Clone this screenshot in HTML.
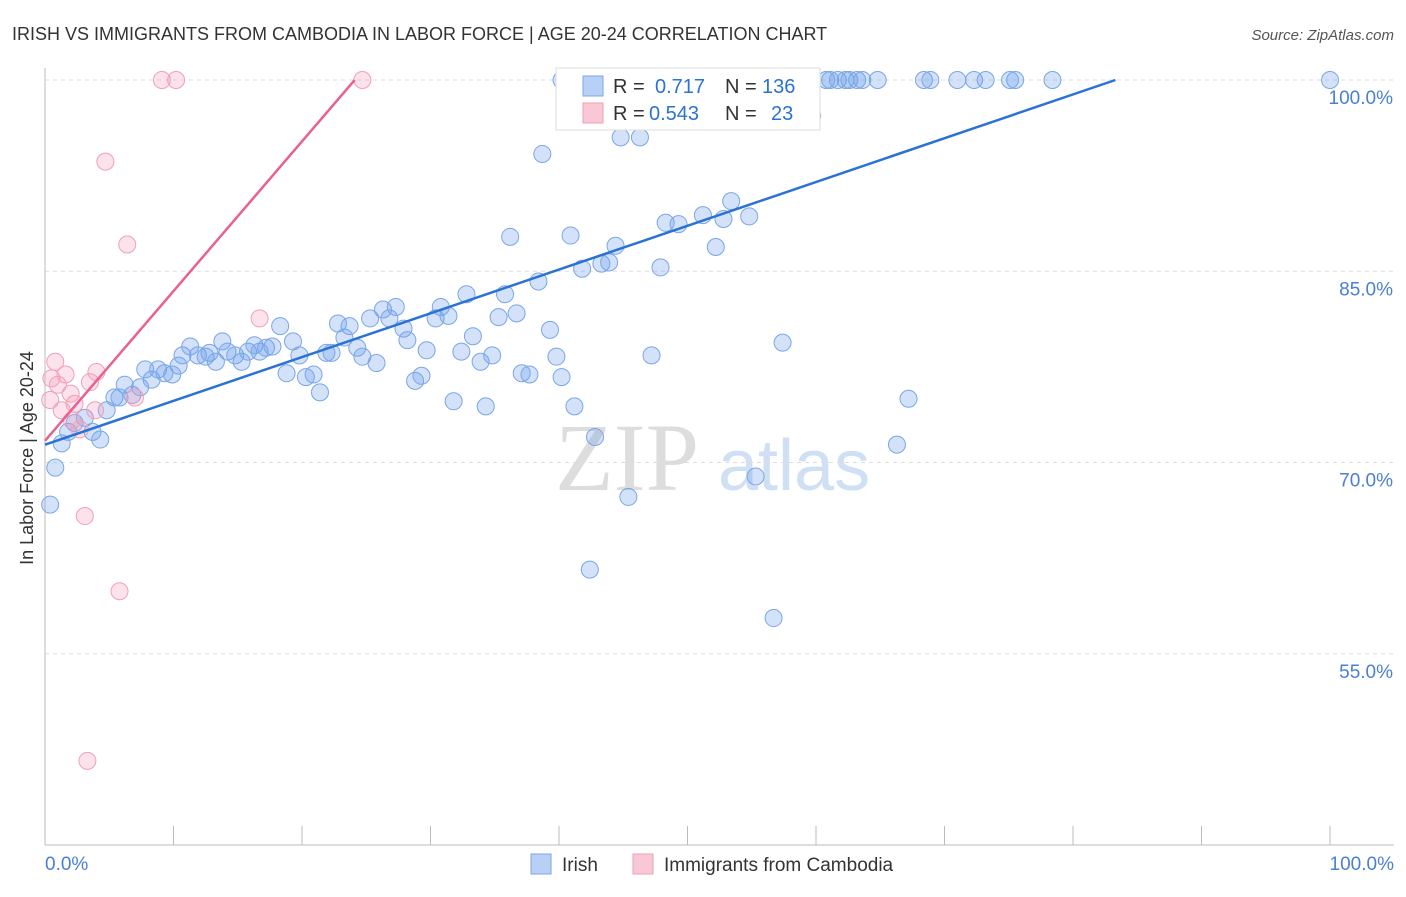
<!DOCTYPE html>
<html><head><meta charset="utf-8"><style>
body{margin:0;background:#fff;font-family:"Liberation Sans",sans-serif}
</style></head><body>
<svg id="c" width="1406" height="892" xmlns="http://www.w3.org/2000/svg">
<text x="12" y="40" font-size="18" fill="#333">IRISH VS IMMIGRANTS FROM CAMBODIA IN LABOR FORCE | AGE 20-24 CORRELATION CHART</text>
<text x="1394" y="40" font-size="15" fill="#555" font-style="italic" text-anchor="end">Source: ZipAtlas.com</text>
<text x="33" y="458" font-size="18" fill="#333" text-anchor="middle" transform="rotate(-90 33 458)">In Labor Force | Age 20-24</text>
<text x="555" y="490" font-size="96" fill="#ddd" font-family="Liberation Serif">ZIP</text>
<text x="718" y="490" font-size="72" fill="#cfe0f5">atlas</text>
<g id="grid"></g><g id="pts"></g><g id="lines"></g>
<g>
<rect x="556" y="68" width="264" height="62" fill="#fff" stroke="#ddd"/>
<rect x="583" y="76" width="20" height="20" fill="#b8d0f5" stroke="#7aa6e6"/>
<text x="613" y="93" font-size="20" fill="#333">R =</text>
<text x="655" y="93" font-size="20" fill="#2a72d6">0.717</text>
<text x="725" y="93" font-size="20" fill="#333">N =</text>
<text x="762" y="93" font-size="20" fill="#2a72d6">136</text>
<rect x="583" y="103" width="20" height="20" fill="#f8c8d6" stroke="#f0a0b8"/>
<text x="613" y="120" font-size="20" fill="#333">R =</text>
<text x="649" y="120" font-size="20" fill="#2a72d6">0.543</text>
<text x="725" y="120" font-size="20" fill="#333">N =</text>
<text x="771" y="120" font-size="20" fill="#2a72d6">23</text>
</g>
<g>
<rect x="531" y="854" width="20" height="20" fill="#b8d0f5" stroke="#7aa6e6"/>
<text x="562" y="871" font-size="19" fill="#333">Irish</text>
<rect x="633" y="854" width="20" height="20" fill="#f8c8d6" stroke="#f0a0b8"/>
<text x="664" y="871" font-size="19" fill="#333">Immigrants from Cambodia</text>
</g>
</svg>
<script>
const yTicks=[100,85,70,55];
const xTickLabels=["0.0%","100.0%"];
const irishX=[0.4,0.8,1.3,1.8,2.3,3.1,3.7,4.3,4.8,5.4,5.8,6.2,6.8,7.4,7.8,8.3,8.8,9.3,9.9,10.4,
10.7,11.3,11.9,12.5,12.8,13.3,13.8,14.2,14.8,15.3,15.8,16.3,16.7,17.2,17.7,18.3,18.8,19.3,19.8,20.3,
20.9,21.4,21.9,22.3,22.8,23.3,23.7,24.3,24.7,25.3,25.8,26.3,26.8,27.3,27.9,28.2,28.8,29.3,29.7,30.4,
30.8,31.4,31.8,32.4,32.8,33.3,33.9,34.3,34.8,35.3,35.8,36.2,36.7,37.1,37.7,38.4,38.7,39.3,39.8,40.2,
40.9,41.2,41.8,42.4,42.8,43.3,43.9,44.4,44.8,45.4,46.3,47.2,47.9,48.3,49.3,51.2,52.2,52.8,53.4,54.8,
55.3,57.4,56.7,66.3,67.2,59.7,51.6,
40.2,43.2,46.8,51.4,55.6,56.7,58.0,59.4,60.8,61.1,61.7,62.3,62.6,63.2,63.6,64.8,68.4,68.9,71.0,72.3,73.2,75.1,75.5,78.4,100];
const irishY=[66.7,69.6,71.5,72.4,73.1,73.5,72.4,71.8,74.1,75.1,75.1,76.1,75.3,75.9,77.3,76.5,77.3,77.0,76.9,77.6,
78.4,79.1,78.4,78.3,78.6,77.9,79.5,78.7,78.4,77.9,78.7,79.2,78.7,79.0,79.1,80.7,77.0,79.5,78.4,76.7,
76.9,75.5,78.6,78.6,80.9,79.8,80.7,79.0,78.3,81.3,77.8,82.0,81.3,82.2,80.5,79.6,76.4,76.8,78.8,81.3,
82.2,81.5,74.8,78.7,83.2,79.9,77.9,74.4,78.4,81.4,83.2,87.7,81.7,77.0,76.9,84.2,94.2,80.4,78.3,76.7,
87.8,74.4,85.2,61.6,72.0,85.6,85.7,87.0,95.5,67.3,95.5,78.4,85.3,88.8,88.7,89.4,86.9,89.1,90.5,89.3,
68.9,79.4,57.8,71.4,75.0,97.2,97.1,
100,100,100,100,100,100,100,100,100,100,100,100,100,100,100,100,100,100,100,100,100,100,100,100,100];
const camX=[0.4,0.5,0.8,1.0,1.3,1.6,2.0,2.1,2.3,2.7,3.1,3.3,3.5,3.9,4.0,4.7,5.8,6.4,7.0,9.1,10.2,16.7,24.7];
const camY=[74.9,76.6,77.9,76.1,74.1,76.9,75.4,73.3,74.6,72.6,65.8,46.6,76.3,74.1,77.1,93.6,59.9,87.1,75.1,100,100,81.3,100];
const ns="http://www.w3.org/2000/svg";
const L=45,R=1330,T=80,B=845;
const sx=v=>L+v/100*(R-L);
const sy=v=>T+(100-v)/60*(B-T);
function mk(t,a,p){const e=document.createElementNS(ns,t);for(const k in a)e.setAttribute(k,a[k]);p.appendChild(e);return e;}
const g=document.getElementById('grid'),pts=document.getElementById('pts'),ln=document.getElementById('lines');
yTicks.forEach(v=>{
 const l=mk('line',{x1:L,x2:1394,y1:sy(v),y2:sy(v),stroke:'#ddd','stroke-dasharray':'4,4'},g);
 
 
 const t=mk('text',{x:1393,y:sy(v)+24,'font-size':19,fill:'#4a7fd4','text-anchor':'end'},g);
 t.textContent=v.toFixed(1)+'%';
 
 
});
mk('line',{x1:L,x2:L,y1:68,y2:B,stroke:'#bbb'},g);
mk('line',{x1:L,x2:1394,y1:B,y2:B,stroke:'#bbb'},g);
for(let i=0;i<=10;i++){const l=mk('line',{x1:sx(i*10),x2:sx(i*10),y1:826,y2:B,stroke:'#bbb'},g);
 
 }
[[0,'start',45],[100,'end',1394]].forEach((d,i)=>{const t=mk('text',{x:d[2],y:870,'font-size':19,fill:'#4a7fd4','text-anchor':d[1]},g);t.textContent=xTickLabels[i];
 
 });
irishX.forEach((x,i)=>{const c=mk('circle',{cx:sx(x),cy:sy(irishY[i]),r:8.5,fill:'rgba(110,160,235,0.3)',stroke:'#7aa6e6','stroke-width':1},pts);
 
 });
camX.forEach((x,i)=>{const c=mk('circle',{cx:sx(x),cy:sy(camY[i]),r:8.5,fill:'rgba(245,160,190,0.3)',stroke:'#f0a0b8','stroke-width':1},pts);
 
 });
const b=mk('line',{x1:sx(0),y1:sy(71.4),x2:sx(83.3),y2:sy(100),stroke:'#2a72d6','stroke-width':2.5},ln);


const p=mk('line',{x1:sx(0),y1:sy(71.7),x2:sx(24.1),y2:sy(100),stroke:'#e8628e','stroke-width':2.5},ln);


</script>
</body></html>
